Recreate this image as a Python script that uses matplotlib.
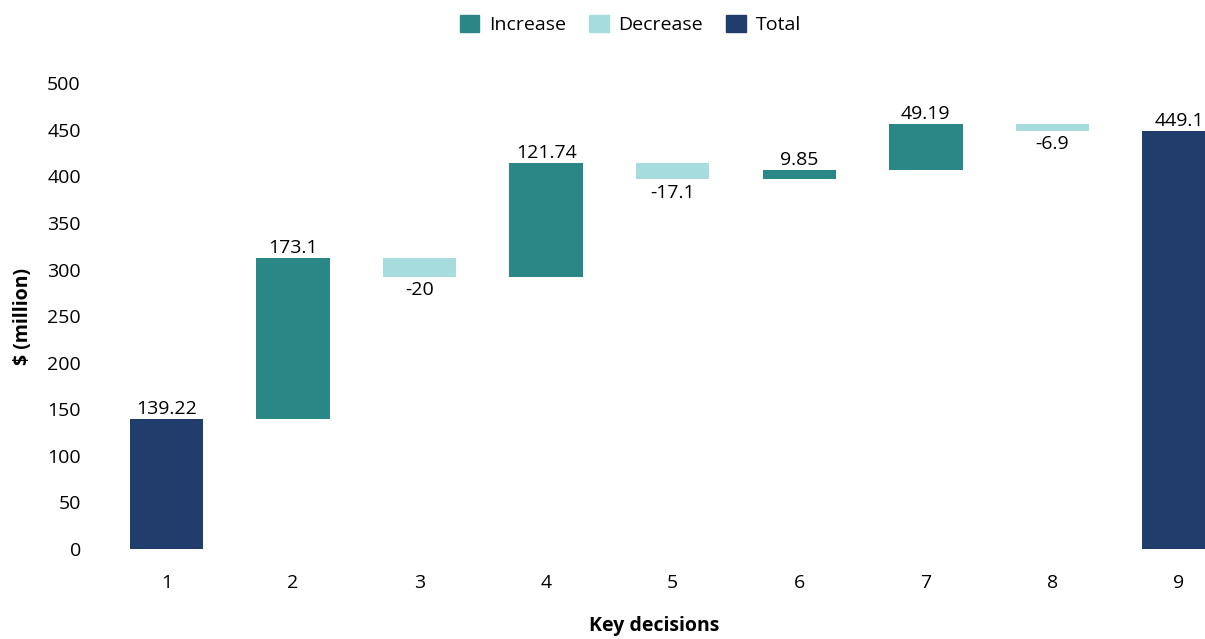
import numpy as np
import matplotlib
matplotlib.use("Agg")
import matplotlib.pyplot as plt
from matplotlib.patches import Patch

# ── Data ───────────────────────────────────────────────────
categories = ["1", "2", "3", "4", "5", "6", "7", "8", "9"]
changes = [139.22, 173.1, -20, 121.74, -17.1, 9.85, 49.19, -6.9, 449.1]
kinds = ["total", "inc", "dec", "inc", "dec", "inc", "inc", "dec", "total"]
labels = ["139.22", "173.1", "-20", "121.74", "-17.1", "9.85", "49.19", "-6.9", "449.1"]

COLORS = {"inc": "#2a8785", "dec": "#a6dcdd", "total": "#213d6b"}

plt.rcParams["font.family"] = ["Open Sans", "DejaVu Sans"]

# ── Waterfall bases ────────────────────────────────────────
bottoms, heights = [], []
running = 0.0
for val, kind in zip(changes, kinds):
    if kind == "total":
        bottoms.append(0.0)
        heights.append(val)
        running = val
    else:
        bottoms.append(running if val >= 0 else running + val)
        heights.append(abs(val))
        running += val

x = np.arange(1, len(categories) + 1)

fig = plt.figure(figsize=(12.05, 6.39), dpi=100)
ax = fig.add_axes([0.0855, 0.1408, 0.9145, 0.729])

ax.bar(x, heights, bottom=bottoms, width=0.58,
       color=[COLORS[k] for k in kinds])

for xi, b, h, kind, lab in zip(x, bottoms, heights, kinds, labels):
    if kind == "dec":
        ax.text(xi, b - 5, lab, ha="center", va="top", fontsize=14)
    else:
        ax.text(xi, b + h + 1, lab, ha="center", va="bottom", fontsize=14)

ax.set_xlim(0.5, 9.205)
ax.set_ylim(0, 500)
ax.set_xticks(x)
ax.set_xticklabels(categories)
ax.set_yticks(np.arange(0, 501, 50))
ax.tick_params(axis="both", length=0, labelsize=14)
ax.tick_params(axis="x", pad=18)
ax.tick_params(axis="y", pad=16)
for s in ax.spines.values():
    s.set_visible(False)

ax.set_xlabel("Key decisions", fontsize=14, fontweight="bold", labelpad=17)
ax.set_ylabel("$ (million)", fontsize=14, fontweight="bold", labelpad=10)

handles = [Patch(color=COLORS["inc"], label="Increase"),
           Patch(color=COLORS["dec"], label="Decrease"),
           Patch(color=COLORS["total"], label="Total")]
fig.legend(handles=handles, loc="center", bbox_to_anchor=(0.523, 0.962),
           ncol=3, frameon=False, fontsize=14, handlelength=1.0,
           handleheight=1.0, handletextpad=0.5, columnspacing=1.2)

fig.savefig("out.png", dpi=100)
